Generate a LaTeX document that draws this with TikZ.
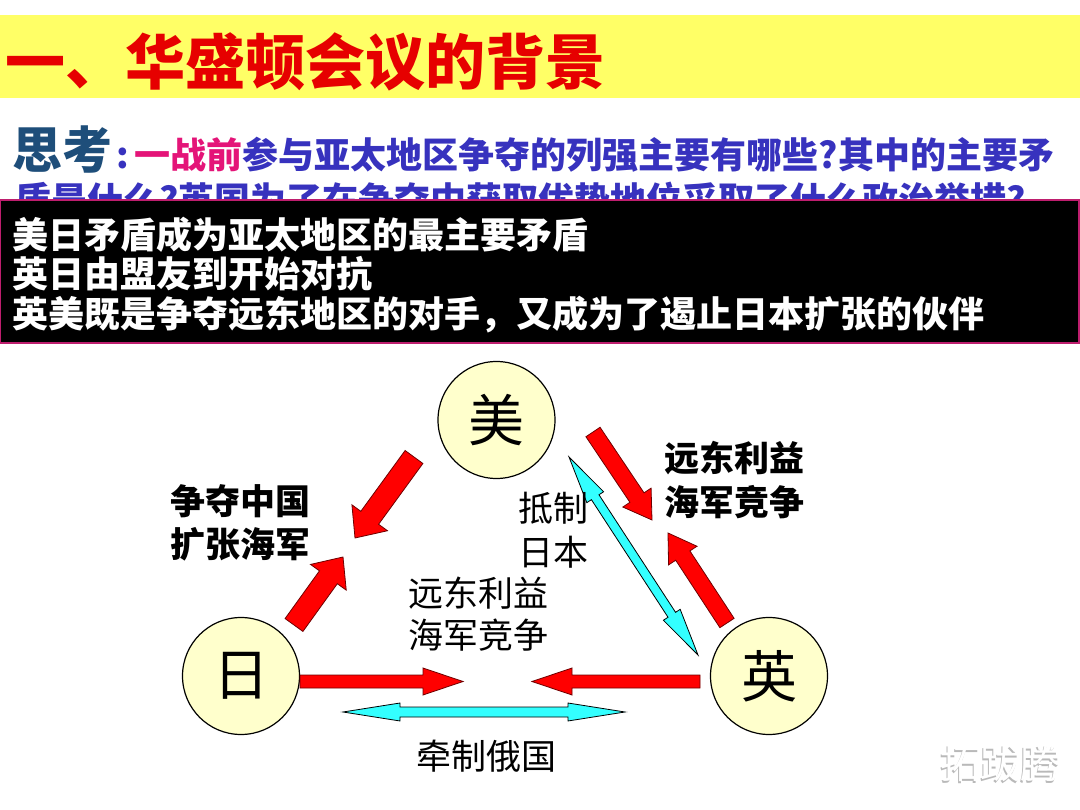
\documentclass[tikz,border=0pt]{standalone}
\usepackage{fontspec}
\setmainfont{Noto Sans CJK SC}
\usepackage{xcolor}
\usetikzlibrary{calc,positioning}
\definecolor{amarillo}{RGB}{255,255,102}
\definecolor{crema}{RGB}{255,255,204}
\definecolor{titulo}{RGB}{230,0,0}
\definecolor{marino}{RGB}{30,78,122}
\definecolor{violeta}{RGB}{55,50,190}
\definecolor{rosa}{RGB}{228,20,120}
\definecolor{borde}{RGB}{190,30,110}
\definecolor{celeste}{RGB}{51,255,255}
\tikzset{
  pais/.style={circle,draw=black,line width=1.2pt,fill=crema,minimum size=117pt,
    inner sep=0pt,font=\fontsize{56}{56}\selectfont},
  roja/.style={fill=red,draw={rgb,255:red,110;green,0;blue,0},line width=0.8pt},
  azul/.style={fill=celeste,draw=black,line width=0.8pt},
  rotulo/.style={inner sep=0pt,align=left,font=\fontsize{35}{44}\selectfont},
  rotulon/.style={inner sep=0pt,align=left,font=\bfseries\fontsize{35}{44}\selectfont},
  linea/.style={inner sep=0pt,anchor=west,text=white,font=\bfseries\fontsize{36}{40}\selectfont}
}
% flecha gruesa: estilo, desde, hasta, medio cuerpo, media punta, largo punta
\newcommand{\flecha}[6]{%
  \coordinate (fa) at (#2); \coordinate (fb) at (#3);
  \coordinate (fh) at ($(fb)!#6!(fa)$);
  \draw[#1] ($(fa)!#4!90:(fb)$) -- ($(fh)!#4!90:(fb)$) -- ($(fh)!#5!90:(fb)$)
    -- (fb) -- ($(fh)!#5!-90:(fb)$) -- ($(fh)!#4!-90:(fb)$)
    -- ($(fa)!#4!-90:(fb)$) -- cycle;}
% flecha de dos puntas
\newcommand{\flechados}[6]{%
  \coordinate (fa) at (#2); \coordinate (fb) at (#3);
  \coordinate (fh) at ($(fb)!#6!(fa)$); \coordinate (fg) at ($(fa)!#6!(fb)$);
  \draw[#1] (fa) -- ($(fg)!#5!90:(fb)$) -- ($(fg)!#4!90:(fb)$) -- ($(fh)!#4!90:(fb)$)
    -- ($(fh)!#5!90:(fb)$) -- (fb) -- ($(fh)!#5!-90:(fb)$) -- ($(fh)!#4!-90:(fb)$)
    -- ($(fg)!#4!-90:(fb)$) -- ($(fg)!#5!-90:(fb)$) -- cycle;}

\begin{document}
\begin{tikzpicture}[x=1pt,y=-1pt]
\useasboundingbox (0,0) rectangle (1080,810);
\fill[white] (0,0) rectangle (1080,810);
% cabecera
\fill[amarillo] (0,15) rectangle (1080,98);
\node[inner sep=0pt,anchor=west,text=titulo,font=\bfseries\fontsize{60}{60}\selectfont]
  (tit) at (5,62) {一、华盛顿会议的背景};
\node[inner sep=0pt,anchor=base west,font=\bfseries\fontsize{36}{40}\selectfont] (preg1) at (12,169)
  {{\fontsize{50}{50}\selectfont\color{marino}思考}\hspace{4pt}{\color{violeta}:}\hspace{6pt}{\color{rosa}一战前}{\color{violeta}参与亚太地区争夺的列强主要有哪些?其中的主要矛}};
\node[inner sep=0pt,anchor=base west,text=violeta,font=\bfseries\fontsize{36}{40}\selectfont] (preg2) at (15,214)
  {质是什么?英国为了在争夺中获取优势地位采取了什么政治举措?};
% respuesta
\draw[fill=black,draw=borde,line width=1.5pt] (0,200) rectangle (1079,343);
\node[linea] (r1) at (12,235) {美日矛盾成为亚太地区的最主要矛盾};
\node[linea] (r2) at (12,274) {英日由盟友到开始对抗};
\node[linea] (r3) at (12,315) {英美既是争夺远东地区的对手，又成为了遏止日本扩张的伙伴};
% paises
\node[pais] (mei) at (496.5,420) {美};
\node[pais] (ri) at (241,676) {日};
\node[pais] (ying) at (769,676) {英};
% extremos de las flechas
\coordinate (a1s) at (414,457); \coordinate (a1e) at (355,538);
\coordinate (a2s) at (294,625); \coordinate (a2e) at (343,557);
\coordinate (a3s) at (593,432); \coordinate (a3e) at (652,520);
\coordinate (a4s) at (727,623); \coordinate (a4e) at (668,533);
\coordinate (a5s) at (300,681.5); \coordinate (a5e) at (463,681.5);
\coordinate (a6s) at (700,681.5); \coordinate (a6e) at (532,681.5);
\coordinate (c1s) at (569,457); \coordinate (c1e) at (698,655);
\coordinate (c2s) at (343,712); \coordinate (c2e) at (625,712);
\flecha{roja}{a1s}{a1e}{11pt}{22pt}{25pt}
\flecha{roja}{a2s}{a2e}{11pt}{22pt}{25pt}
\flecha{roja}{a3s}{a3e}{8.5pt}{17pt}{27pt}
\flecha{roja}{a4s}{a4e}{8.5pt}{17pt}{27pt}
\flecha{roja}{a5s}{a5e}{6.5pt}{13.5pt}{40pt}
\flecha{roja}{a6s}{a6e}{6.5pt}{13.5pt}{40pt}
\flechados{azul}{c1s}{c1e}{4.5pt}{10pt}{48pt}
\flechados{azul}{c2s}{c2e}{5pt}{9pt}{57pt}
% rotulos
\node[rotulon,font=\bfseries\fontsize{35}{43}\selectfont] (lzh) at (240,522.5) {争夺中国\\扩张海军};
\node[rotulon] (lyd1) at (734,480) {远东利益\\海军竞争};
\node[rotulo] (ldz) at (553,530) {抵制\\日本};
\node[rotulo,font=\fontsize{35}{42}\selectfont] (lyd2) at (478,614) {远东利益\\海军竞争};
\node[rotulo] (lqz) at (486,756) {牵制俄国};
% marca
\node[inner sep=0pt,text=gray!55,font=\fontsize{40}{40}\selectfont] (marca0) at (999,765) {拓跋腾};
\node[inner sep=0pt,text=white,font=\fontsize{40}{40}\selectfont] (marca) at (1000.5,763.5) {拓跋腾};
\end{tikzpicture}
\end{document}
